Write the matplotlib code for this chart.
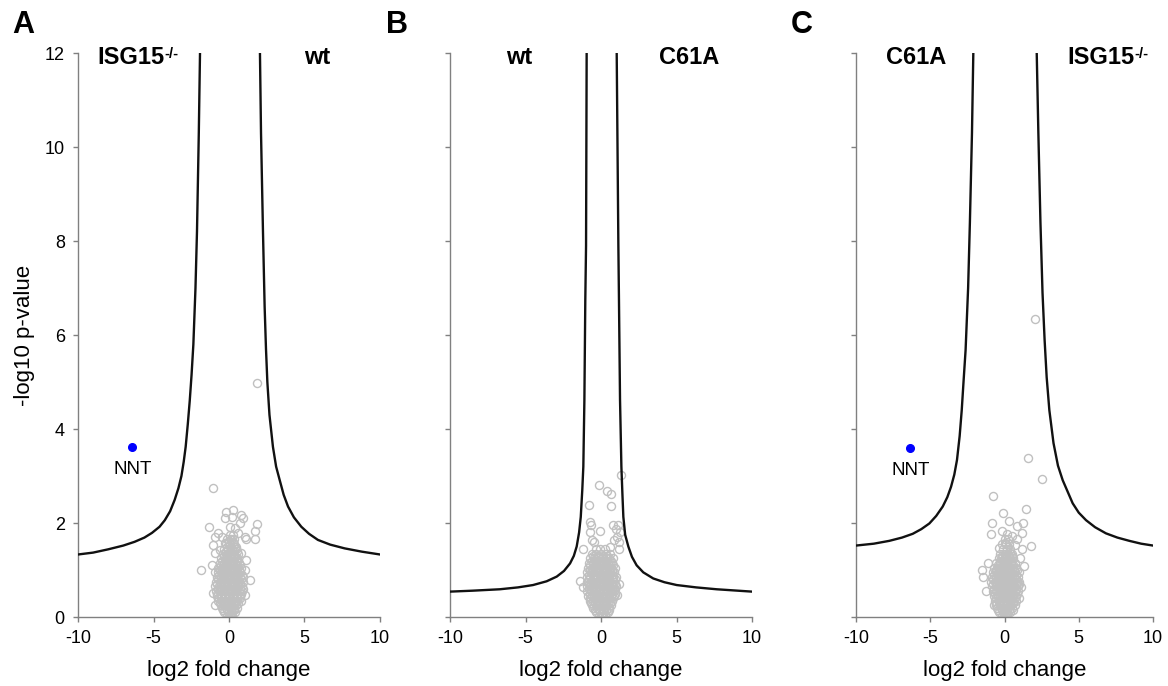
import matplotlib
matplotlib.use("Agg")
import matplotlib.pyplot as plt

plt.rcParams["font.family"] = ["Liberation Sans", "DejaVu Sans"]
plt.rcParams["axes.unicode_minus"] = False

SPINE = "#808080"
DOT = "#c0c0c0"
CURVE = "#111111"
NNT_BLUE = "#0000ff"

# threshold curves as (log2 fc, -log10 p)
A_LEFT = [(-10, 1.33), (-9, 1.37), (-8, 1.44), (-7, 1.52), (-6.25, 1.60), (-5.6, 1.69),
          (-5.1, 1.79), (-4.6, 1.92), (-4.25, 2.06), (-3.9, 2.25), (-3.6, 2.49), (-3.35, 2.74),
          (-3.15, 3.0), (-3.0, 3.3), (-2.87, 3.62), (-2.73, 4.1), (-2.6, 4.6), (-2.48, 5.15),
          (-2.36, 5.8), (-2.22, 7.0), (-2.12, 8.2), (-2.0, 10.3), (-1.92, 12.0)]
A_RIGHT = [(2.05, 12.0), (2.12, 10.3), (2.25, 8.2), (2.36, 6.6), (2.45, 5.7), (2.54, 5.0),
           (2.68, 4.3), (2.91, 3.62), (3.12, 3.2), (3.36, 2.91), (3.62, 2.6), (3.91, 2.35),
           (4.3, 2.12), (4.79, 1.92), (5.3, 1.77), (5.89, 1.64), (6.7, 1.54), (7.66, 1.46),
           (8.8, 1.39), (10, 1.33)]
B_LEFT = [(-10, 0.54), (-8.5, 0.56), (-6.7, 0.59), (-5.5, 0.63), (-4.5, 0.68), (-3.6, 0.76),
          (-2.93, 0.86), (-2.45, 0.98), (-2.05, 1.14), (-1.8, 1.3), (-1.61, 1.5), (-1.45, 1.8),
          (-1.34, 2.13), (-1.24, 2.7), (-1.17, 3.2), (-1.10, 4.62), (-1.04, 6.74), (-0.99, 7.9),
          (-0.95, 12.0)]
B_RIGHT = [(1.04, 12.0), (1.15, 7.9), (1.19, 6.74), (1.26, 4.62), (1.35, 3.2), (1.42, 2.6),
           (1.48, 2.13), (1.6, 1.75), (1.81, 1.5), (2.05, 1.28), (2.36, 1.10), (2.8, 0.95),
           (3.46, 0.82), (4.2, 0.74), (5.01, 0.68), (6.3, 0.63), (7.66, 0.59), (10, 0.54)]
C_LEFT = [(-10, 1.52), (-8.8, 1.56), (-7.76, 1.62), (-6.9, 1.69), (-6.18, 1.77), (-5.6, 1.87),
          (-5.06, 1.99), (-4.6, 2.15), (-4.16, 2.35), (-3.85, 2.55), (-3.6, 2.77), (-3.38, 3.03),
          (-3.2, 3.34), (-3.02, 3.85), (-2.88, 4.4), (-2.76, 5.0), (-2.62, 5.68), (-2.45, 7.0),
          (-2.33, 8.4), (-2.19, 10.3), (-2.10, 12.0)]
C_RIGHT = [(2.17, 12.0), (2.28, 10.3), (2.42, 8.4), (2.56, 6.9), (2.7, 5.9), (2.84, 5.1),
           (3.02, 4.4), (3.3, 3.7), (3.6, 3.22), (3.92, 2.91), (4.59, 2.42), (5.0, 2.22),
           (5.49, 2.06), (6.1, 1.91), (6.83, 1.78), (7.6, 1.69), (8.41, 1.62), (9.2, 1.56),
           (10, 1.52)]

# dense core of each protein cloud: (y, [x values]) rows
A_CORE = [
    (0.03, [-0.15, 0.05, 0.2]),
    (0.10, [-0.3, -0.05, 0.2, 0.4]),
    (0.15, [-0.4, -0.15, 0.1, 0.35]),
    (0.20, [-0.45, -0.2, 0.05, 0.3, 0.5]),
    (0.25, [-0.55, -0.3, -0.05, 0.2, 0.45]),
    (0.30, [-0.6, -0.35, -0.1, 0.15, 0.4, 0.6]),
    (0.35, [-0.7, -0.45, -0.2, 0.05, 0.3, 0.55]),
    (0.40, [-0.75, -0.5, -0.25, 0.0, 0.25, 0.5, 0.7]),
    (0.45, [-0.8, -0.55, -0.3, -0.05, 0.2, 0.45, 0.7]),
    (0.50, [-0.8, -0.5, -0.25, 0.0, 0.3, 0.55, 0.8]),
    (0.55, [-0.85, -0.6, -0.35, -0.1, 0.15, 0.4, 0.65, 0.85]),
    (0.60, [-0.75, -0.5, -0.25, 0.0, 0.25, 0.5, 0.75, 0.95]),
    (0.65, [-0.9, -0.65, -0.4, -0.15, 0.1, 0.35, 0.6, 0.85]),
    (0.70, [-0.8, -0.5, -0.25, 0.0, 0.25, 0.5, 0.75]),
    (0.75, [-0.85, -0.6, -0.35, -0.1, 0.15, 0.4, 0.65, 0.9]),
    (0.80, [-0.7, -0.45, -0.2, 0.05, 0.3, 0.55, 0.8]),
    (0.85, [-0.8, -0.55, -0.3, -0.05, 0.2, 0.45, 0.7, 0.9]),
    (0.90, [-0.65, -0.4, -0.15, 0.1, 0.35, 0.6, 0.85]),
    (0.95, [-0.75, -0.5, -0.25, 0.0, 0.25, 0.5, 0.75]),
    (1.00, [-0.6, -0.35, -0.1, 0.15, 0.4, 0.65]),
    (1.05, [-0.7, -0.45, -0.2, 0.05, 0.3, 0.55, 0.8]),
    (1.10, [-0.5, -0.25, 0.0, 0.25, 0.5, 0.75]),
    (1.15, [-0.6, -0.35, -0.1, 0.15, 0.4, 0.65]),
    (1.20, [-0.45, -0.2, 0.05, 0.3, 0.55]),
    (1.25, [-0.5, -0.25, 0.0, 0.25, 0.5]),
    (1.30, [-0.35, -0.1, 0.15, 0.4]),
    (1.35, [-0.4, -0.15, 0.1, 0.35, 0.6]),
    (1.40, [-0.2, 0.05, 0.3, 0.5]),
    (1.45, [-0.3, -0.05, 0.2, 0.45]),
    (1.50, [-0.1, 0.15, 0.4]),
    (1.55, [-0.2, 0.05, 0.3]),
    (1.60, [0.0, 0.25]),
    (1.65, [-0.1, 0.15, 0.35]),
    (1.75, [0.05, 0.25]),
]
B_CORE = [
    (0.03, [-0.15, 0.05, 0.25]),
    (0.10, [-0.3, -0.05, 0.2, 0.45]),
    (0.15, [-0.4, -0.15, 0.1, 0.35, 0.55]),
    (0.20, [-0.5, -0.25, 0.0, 0.25, 0.5]),
    (0.25, [-0.6, -0.35, -0.1, 0.15, 0.4, 0.65]),
    (0.30, [-0.65, -0.4, -0.15, 0.1, 0.35, 0.6]),
    (0.35, [-0.75, -0.5, -0.25, 0.0, 0.25, 0.5, 0.75]),
    (0.40, [-0.7, -0.45, -0.2, 0.05, 0.3, 0.55, 0.8]),
    (0.45, [-0.85, -0.6, -0.35, -0.1, 0.15, 0.4, 0.65, 0.85]),
    (0.50, [-0.75, -0.5, -0.25, 0.0, 0.25, 0.5, 0.75, 0.95]),
    (0.55, [-0.9, -0.65, -0.4, -0.15, 0.1, 0.35, 0.6, 0.85]),
    (0.60, [-0.8, -0.55, -0.3, -0.05, 0.2, 0.45, 0.7, 0.95]),
    (0.65, [-0.95, -0.7, -0.45, -0.2, 0.05, 0.3, 0.55, 0.8, 1.0]),
    (0.70, [-0.8, -0.55, -0.3, -0.05, 0.2, 0.45, 0.7, 0.95]),
    (0.75, [-0.9, -0.65, -0.4, -0.15, 0.1, 0.35, 0.6, 0.85]),
    (0.80, [-0.8, -0.55, -0.3, -0.05, 0.2, 0.45, 0.7, 0.95]),
    (0.85, [-0.95, -0.7, -0.45, -0.2, 0.05, 0.3, 0.55, 0.8, 1.0]),
    (0.90, [-0.8, -0.55, -0.3, -0.05, 0.2, 0.45, 0.7]),
    (0.95, [-0.9, -0.65, -0.4, -0.15, 0.1, 0.35, 0.6, 0.85]),
    (1.00, [-0.75, -0.5, -0.25, 0.0, 0.25, 0.5, 0.75]),
    (1.05, [-0.85, -0.6, -0.35, -0.1, 0.15, 0.4, 0.65, 0.9]),
    (1.10, [-0.7, -0.45, -0.2, 0.05, 0.3, 0.55, 0.8]),
    (1.15, [-0.8, -0.55, -0.3, -0.05, 0.2, 0.45, 0.7]),
    (1.20, [-0.6, -0.35, -0.1, 0.15, 0.4, 0.65]),
    (1.25, [-0.7, -0.45, -0.2, 0.05, 0.3, 0.55, 0.8]),
    (1.30, [-0.5, -0.2, 0.1, 0.4]),
    (1.35, [-0.6, -0.3, 0.0, 0.3, 0.6]),
    (1.45, [-0.35, -0.05, 0.25]),
]
C_CORE = [
    (0.03, [-0.2, 0.0, 0.2]),
    (0.10, [-0.35, -0.1, 0.15, 0.4]),
    (0.15, [-0.45, -0.2, 0.05, 0.3, 0.55]),
    (0.20, [-0.5, -0.25, 0.0, 0.25, 0.5]),
    (0.25, [-0.55, -0.3, -0.05, 0.2, 0.45, 0.7]),
    (0.30, [-0.6, -0.35, -0.1, 0.15, 0.4, 0.6]),
    (0.35, [-0.65, -0.4, -0.15, 0.1, 0.35, 0.6, 0.8]),
    (0.40, [-0.55, -0.3, -0.05, 0.2, 0.45, 0.7]),
    (0.45, [-0.7, -0.45, -0.2, 0.05, 0.3, 0.55, 0.8]),
    (0.50, [-0.65, -0.4, -0.15, 0.1, 0.35, 0.6, 0.85]),
    (0.55, [-0.8, -0.55, -0.3, -0.05, 0.2, 0.45, 0.7, 0.9]),
    (0.60, [-0.7, -0.45, -0.2, 0.05, 0.3, 0.55, 0.8]),
    (0.65, [-0.85, -0.6, -0.35, -0.1, 0.15, 0.4, 0.65, 0.9]),
    (0.70, [-0.75, -0.5, -0.25, 0.0, 0.25, 0.5, 0.75, 0.95]),
    (0.75, [-0.9, -0.65, -0.4, -0.15, 0.1, 0.35, 0.6, 0.85, 1.0]),
    (0.80, [-0.75, -0.5, -0.25, 0.0, 0.25, 0.5, 0.75]),
    (0.85, [-0.85, -0.6, -0.35, -0.1, 0.15, 0.4, 0.65, 0.9]),
    (0.90, [-0.7, -0.45, -0.2, 0.05, 0.3, 0.55, 0.8]),
    (0.95, [-0.8, -0.55, -0.3, -0.05, 0.2, 0.45, 0.7, 0.95]),
    (1.00, [-0.6, -0.35, -0.1, 0.15, 0.4, 0.65, 0.85]),
    (1.05, [-0.7, -0.45, -0.2, 0.05, 0.3, 0.55, 0.8]),
    (1.10, [-0.45, -0.2, 0.05, 0.3, 0.55]),
    (1.15, [-0.55, -0.3, -0.05, 0.2, 0.45, 0.7]),
    (1.20, [-0.3, -0.05, 0.2, 0.45]),
    (1.25, [-0.4, -0.15, 0.1, 0.35, 0.6]),
    (1.30, [-0.2, 0.05, 0.3, 0.5]),
    (1.35, [-0.3, 0.0, 0.25, 0.5]),
    (1.45, [-0.1, 0.15, 0.4]),
    (1.55, [-0.2, 0.1, 0.3]),
    (1.65, [0.0, 0.25]),
]

# scattered proteins outside the dense core
A_EXTRA = [(1.88, 4.97), (-1.06, 2.74), (-1.35, 1.92), (1.85, 1.98), (1.74, 1.82), (1.74, 1.67),
           (1.15, 1.66), (-1.88, 1.01), (1.39, 0.79), (-1.04, 0.51), (1.04, 0.47), (0.82, 0.33),
           (-0.18, 2.24), (0.26, 2.27), (0.20, 2.13), (0.82, 2.17), (0.93, 2.10), (0.71, 2.00),
           (-0.29, 2.10), (0.04, 1.92), (0.38, 1.89), (-0.73, 1.78), (-0.95, 1.71), (-0.46, 1.71),
           (0.60, 1.78), (1.04, 1.71), (-1.06, 1.53), (-0.29, 1.57), (-0.62, 1.43), (-0.95, 1.36),
           (0.15, 1.64), (0.49, 1.50), (0.82, 1.36), (1.15, 1.21), (-1.1, 1.1), (-0.95, 0.95),
           (1.05, 1.0), (-0.9, 0.25)]
B_EXTRA = [(1.30, 3.02), (-0.15, 2.81), (0.38, 2.69), (0.64, 2.61), (-0.82, 2.39), (0.64, 2.36),
           (-0.75, 2.02), (-0.68, 1.95), (-0.71, 1.81), (-0.62, 1.64), (-0.07, 1.83), (0.77, 1.95),
           (0.99, 1.88), (1.15, 1.95), (1.26, 1.81), (1.08, 1.70), (1.19, 1.60), (0.88, 1.64),
           (-1.17, 1.44), (-0.46, 1.60), (0.60, 1.50), (1.21, 1.44), (-1.39, 0.77), (-1.17, 0.64),
           (1.17, 0.70), (1.08, 0.47)]
C_EXTRA = [(2.05, 6.33), (1.58, 3.38), (2.53, 2.93), (-0.75, 2.57), (1.45, 2.29), (-0.08, 2.21),
           (-0.84, 2.01), (0.33, 2.05), (0.82, 1.94), (1.27, 2.01), (1.20, 1.79), (-0.93, 1.77),
           (-0.19, 1.84), (0.15, 1.77), (0.48, 1.73), (0.86, 1.66), (1.78, 1.51), (1.16, 1.45),
           (-0.35, 1.47), (0.03, 1.57), (0.71, 1.54), (0.37, 1.36), (1.04, 1.26), (-1.54, 1.01),
           (-1.09, 1.15), (-1.43, 0.86), (-1.25, 0.56), (1.34, 1.08), (1.11, 0.63), (1.00, 0.40),
           (-0.71, 0.26)]

NNT_A = (-6.40, 3.61)
NNT_C = (-6.34, 3.59)

X_TICKS = [-10, -5, 0, 5, 10]
Y_TICKS = [0, 2, 4, 6, 8, 10, 12]


def _expand(rows, extra):
    xs = [x for y, row in rows for x in row] + [p[0] for p in extra]
    ys = [y for y, row in rows for _ in row] + [p[1] for p in extra]
    return xs, ys


def _cond_label(ax, x, text, sup, ha):
    t = ax.text(x, 11.9, text, ha=ha, va="center", fontsize=17, fontweight="bold")
    if sup:
        ax.annotate(sup, xy=(1.0, 0.97), xycoords=t, ha="left", va="top",
                    fontsize=10.5, fontweight="bold")


def draw_panel(ax, rows, extra, left, right, nnt=None, show_y=False):
    xs, ys = _expand(rows, extra)
    ax.plot(xs, ys, linestyle="none", marker="o", markersize=5.8, markerfacecolor="none",
            markeredgecolor=DOT, markeredgewidth=1.0, zorder=2)
    for curve in (left, right):
        ax.plot([p[0] for p in curve], [p[1] for p in curve], color=CURVE, lw=1.7, zorder=3)
    if nnt:
        ax.plot(*nnt, "o", color=NNT_BLUE, markersize=5.5, zorder=4)
        ax.text(nnt[0], nnt[1] - 0.47, "NNT", ha="center", va="center", fontsize=13.5)

    ax.set_xlim(-10, 10)
    ax.set_ylim(0, 12)
    ax.set_xticks(X_TICKS)
    ax.set_yticks(Y_TICKS)
    for side in ("top", "right"):
        ax.spines[side].set_visible(False)
    for side in ("left", "bottom"):
        ax.spines[side].set_color(SPINE)
        ax.spines[side].set_linewidth(1.0)
    ax.tick_params(direction="out", length=3.5, width=1.0, color=SPINE, labelsize=13, pad=6)
    if show_y:
        ax.set_ylabel("-log10 p-value", fontsize=16, labelpad=7)
    else:
        ax.tick_params(axis="y", labelleft=False)
    ax.set_xlabel("log2 fold change", fontsize=16, labelpad=9)


fig = plt.figure(figsize=(11.68, 6.86), dpi=100)
W, H = 1168, 686
bottom, height = 69 / H, 564 / H
axA = fig.add_axes([78 / W, bottom, 302 / W, height])
axB = fig.add_axes([450 / W, bottom, 302 / W, height])
axC = fig.add_axes([856 / W, bottom, 297 / W, height])

draw_panel(axA, A_CORE, A_EXTRA, A_LEFT, A_RIGHT, nnt=NNT_A, show_y=True)
draw_panel(axB, B_CORE, B_EXTRA, B_LEFT, B_RIGHT)
draw_panel(axC, C_CORE, C_EXTRA, C_LEFT, C_RIGHT, nnt=NNT_C)

_cond_label(axA, -8.74, "ISG15", "-/-", "left")
_cond_label(axA, 5.83, "wt", None, "center")
_cond_label(axB, -5.40, "wt", None, "center")
_cond_label(axB, 5.86, "C61A", None, "center")
_cond_label(axC, -5.96, "C61A", None, "center")
_cond_label(axC, 4.21, "ISG15", "-/-", "left")

for letter, px in (("A", 12), ("B", 386), ("C", 791)):
    fig.text(px / W, 1 - 10 / H, letter, ha="left", va="top", fontsize=22, fontweight="bold")

fig.savefig("out.png", dpi=100, facecolor="white")
plt.close(fig)
